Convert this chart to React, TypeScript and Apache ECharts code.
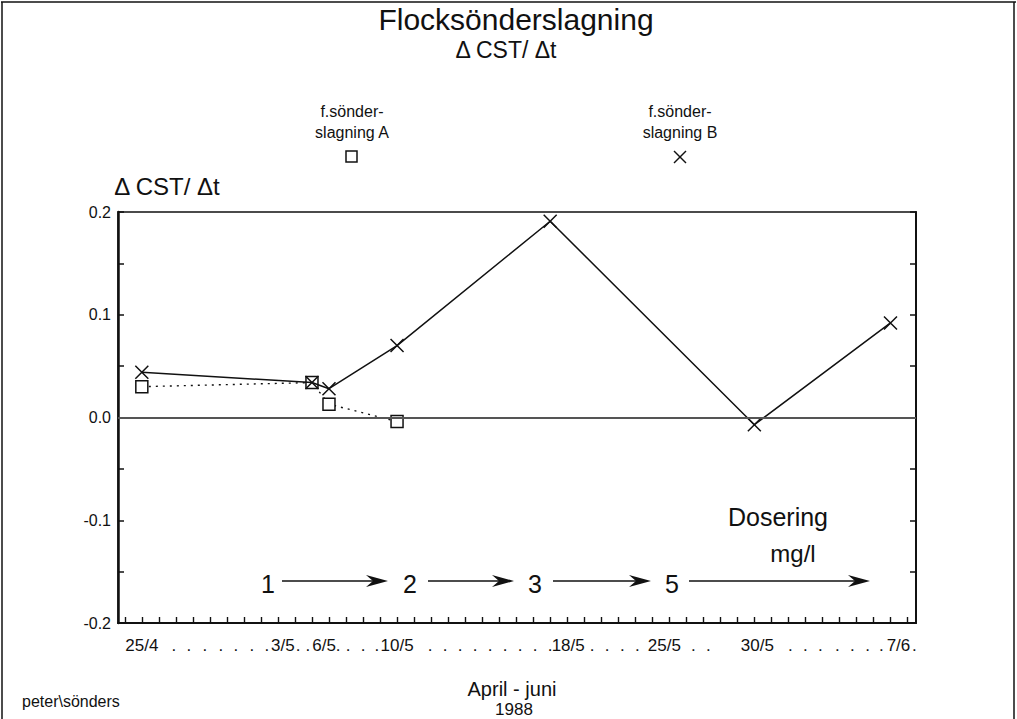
import React, { useEffect, useRef } from 'react';
import * as echarts from 'echarts';

// Series A: "f.sönder-slagning A" (squares, dotted line). x in day-tick units of the axis
const xA = [1, 11, 12, 16];
const yA = [0.030, 0.034, 0.013, -0.004];
// Series B: "f.sönder-slagning B" (crosses, solid line)
const xB = [1, 11, 12, 16, 25, 37, 45];
const yB = [0.044, 0.034, 0.028, 0.070, 0.191, -0.007, 0.092];

// y ticks
const yMin = -0.2;
const yMax = 0.2;
const yStep = 0.1;

// x axis: one tick per day
const xTickValues = [0, 1, 2, 3, 4, 5, 6, 7, 8, 9, 10, 11, 12, 13, 14, 15, 16, 17, 18, 19, 20, 21, 22, 23, 24, 25, 26, 27, 28, 29, 30, 31, 32, 33, 34, 35, 36, 37, 38, 39, 40, 41, 42, 43, 44, 45, 46];
// typed label row under the axis
const xLabelText = ['25/4', '.', '.', '.', '.', '.', '.', '.', '3/5', '.', '.', '6/5', '.', '.', '.', '.', '10/5', '.', '.', '.', '.', '.', '.', '.', '.', '.', '18/5', '.', '.', '.', '.', '25/5', '.', '.', '30/5', '.', '.', '.', '.', '.', '.', '.', '7/6', '.'];
const xLabelPos = [1.0, 2.88, 3.76, 4.71, 5.65, 6.53, 7.47, 8.35, 9.29, 10.18, 10.76, 11.71, 12.53, 13.12, 14.0, 14.82, 16.0, 17.94, 18.82, 19.71, 20.59, 21.47, 22.35, 23.24, 24.12, 25.0, 26.06, 27.47, 28.35, 29.24, 30.12, 31.71, 33.41, 34.29, 37.18, 39.12, 40.0, 40.88, 41.88, 42.76, 43.65, 44.47, 45.47, 46.4];

const dosText = ['1', '2', '3', '5'];

const FONT = '"Liberation Sans", Arial, Helvetica, sans-serif';
const CROSS = 'path://M0 0L10 10M10 0L0 10';

export default function App() {
  const ref = useRef<HTMLDivElement>(null);
  useEffect(() => {
    if (!ref.current) return;
    const chart = echarts.init(ref.current, undefined, { renderer: 'svg' });
    const labelMap = new Map<number, string>();
    xLabelPos.forEach((p, i) => labelMap.set(p, xLabelText[i]));

    const txt = (text: string, x: number, y: number, size: number, align = 'center') => ({
      type: 'text',
      style: { text, x, y, font: `${size}px ${FONT}`, fill: '#111', textAlign: align, textVerticalAlign: 'middle' },
      silent: true,
    });
    const arrow = (x1: number, x2: number, y: number) => [
      { type: 'line', shape: { x1, y1: y, x2: x2 - 12, y2: y }, style: { stroke: '#111', lineWidth: 1.7 }, silent: true },
      { type: 'polygon', shape: { points: [[x2 - 22, y - 6], [x2, y], [x2 - 22, y + 6], [x2 - 15, y]] }, style: { fill: '#111' }, silent: true },
    ];
    const digitX = [268, 410, 535, 672];
    const arrows = [[282, 388], [428, 514], [553, 651], [689, 870]];

    const graphic: any[] = [
      // outer frame
      { type: 'line', shape: { x1: 1, y1: 2, x2: 1016, y2: 2 }, style: { stroke: '#111', lineWidth: 1.5 }, silent: true },
      { type: 'line', shape: { x1: 2, y1: 2, x2: 2, y2: 719 }, style: { stroke: '#111', lineWidth: 1.5 }, silent: true },
      { type: 'line', shape: { x1: 1014, y1: 2, x2: 1014, y2: 719 }, style: { stroke: '#111', lineWidth: 1.5 }, silent: true },
      txt('Flocksönderslagning', 516, 19, 30),
      txt('Δ CST/ Δt', 506, 50, 23),
      txt('f.sönder-', 352, 111, 16),
      txt('slagning A', 352, 132, 16),
      { type: 'rect', shape: { x: 346, y: 151, width: 11, height: 11 }, style: { fill: 'none', stroke: '#111', lineWidth: 1.5 }, silent: true },
      txt('f.sönder-', 680, 111, 16),
      txt('slagning B', 680, 132, 16),
      { type: 'line', shape: { x1: 674, y1: 151, x2: 686, y2: 163 }, style: { stroke: '#111', lineWidth: 1.4 }, silent: true },
      { type: 'line', shape: { x1: 686, y1: 151, x2: 674, y2: 163 }, style: { stroke: '#111', lineWidth: 1.4 }, silent: true },
      txt('Δ CST/ Δt', 167, 186, 24),
      txt('Dosering', 778, 517, 25),
      txt('mg/l', 793, 553, 24),
      txt('April - juni', 512, 689, 20),
      txt('1988', 514, 709, 17),
      txt('peter\\sönders', 22, 701, 16, 'left'),
    ];
    dosText.forEach((d, i) => {
      graphic.push(txt(d, digitX[i], 584, 25));
      graphic.push(...arrow(arrows[i][0], arrows[i][1], 581));
    });

    const yAxisCommon = {
      type: 'value',
      min: yMin,
      max: yMax,
      interval: yStep,
      splitLine: { show: false },
      axisTick: { show: true, inside: true, length: 6, lineStyle: { color: '#111', width: 1.5 } },
      minorTick: { show: true, splitNumber: 2, length: 6, lineStyle: { color: '#111', width: 1.5 } },
    };

    chart.setOption({
      animation: false,
      backgroundColor: '#fff',
      grid: { left: 118, right: 101, top: 212, bottom: 96, show: true, borderColor: '#111', borderWidth: 1.5, backgroundColor: 'transparent' },
      xAxis: {
        type: 'value',
        min: -0.4,
        max: 46.5,
        axisLine: { show: true, onZero: false, lineStyle: { color: '#111', width: 2 } },
        axisTick: { show: true, inside: true, length: 6, customValues: xTickValues, lineStyle: { color: '#111', width: 1.4 } },
        axisLabel: {
          show: true,
          customValues: xLabelPos,
          margin: 14,
          formatter: (v: number) => labelMap.get(v) ?? '',
          fontFamily: FONT,
          fontSize: 17,
          color: '#111',
        },
        splitLine: { show: false },
      },
      yAxis: [
        {
          ...yAxisCommon,
          position: 'left',
          axisLine: { show: true, onZero: false, lineStyle: { color: '#111', width: 2.5 } },
          axisLabel: { show: true, margin: 7, fontFamily: FONT, fontSize: 16, color: '#111', formatter: (v: number) => v.toFixed(1) },
        },
        {
          ...yAxisCommon,
          position: 'right',
          axisLine: { show: true, onZero: false, lineStyle: { color: '#111', width: 2 } },
          axisLabel: { show: false },
        },
      ],
      series: [
        {
          name: 'f.sönder-slagning A',
          type: 'line',
          yAxisIndex: 0,
          data: xA.map((x, i) => [x, yA[i]]),
          symbol: 'rect',
          symbolSize: 12,
          showAllSymbol: true,
          lineStyle: { color: '#111', width: 1.4, type: [2, 5] },
          itemStyle: { color: '#fff', borderColor: '#111', borderWidth: 1.5 },
          z: 2,
          markLine: {
            silent: true,
            symbol: 'none',
            label: { show: false },
            lineStyle: { color: '#555', width: 1.8, type: 'solid' },
            data: [{ yAxis: 0 }],
          },
        },
        {
          name: 'f.sönder-slagning B',
          type: 'line',
          yAxisIndex: 0,
          data: xB.map((x, i) => [x, yB[i]]),
          symbol: CROSS,
          symbolSize: 13,
          showAllSymbol: true,
          lineStyle: { color: '#111', width: 1.5 },
          itemStyle: { color: 'none', borderColor: '#111', borderWidth: 1.5 },
          z: 3,
        },
      ],
      graphic,
    });
    return () => chart.dispose();
  }, []);
  return <div ref={ref} style={{ position: 'fixed', left: 0, top: 0, width: 1017, height: 719, background: '#fff' }} />;
}
